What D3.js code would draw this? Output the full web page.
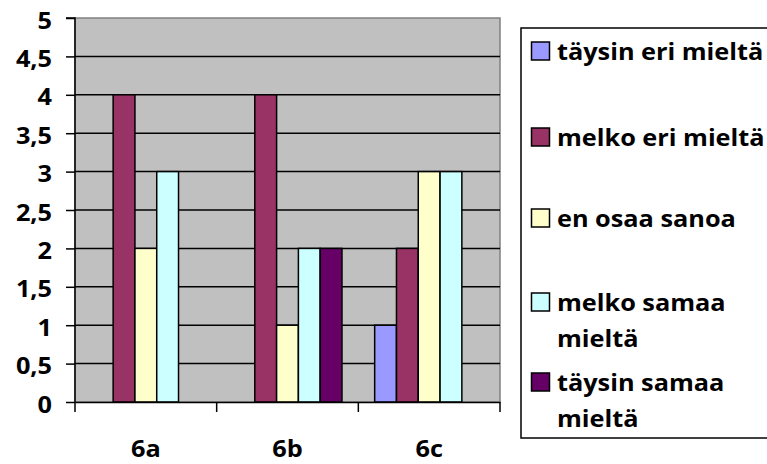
<!DOCTYPE html>
<html>
<head>
<meta charset="utf-8">
<script src="https://cdn.jsdelivr.net/npm/d3@7"></script>
<style>
  html, body { margin: 0; padding: 0; background: #fff; }
  svg { display: block; }
  text { font-family: "Open Sans", sans-serif; font-weight: 700; fill: #000; }
</style>
</head>
<body>
<svg id="chart" width="767" height="464"></svg>
<script>
// Survey answers per statement
const categories = ["6a", "6b", "6c"];
const seriesNames = ["täysin eri mieltä", "melko eri mieltä", "en osaa sanoa", "melko samaa mieltä", "täysin samaa mieltä"];
const legendLines = [["täysin eri mieltä"], ["melko eri mieltä"], ["en osaa sanoa"], ["melko samaa", "mieltä"], ["täysin samaa", "mieltä"]];
const seriesColors = ["#9999FF", "#993366", "#FFFFCC", "#CCFFFF", "#660066"];
const valuesTaysinEri = [0, 0, 1];
const valuesMelkoEri = [4, 4, 2];
const valuesEnOsaa = [2, 1, 3];
const valuesMelkoSamaa = [3, 2, 3];
const valuesTaysinSamaa = [0, 2, 0];
const yTicks = [0, 0.5, 1, 1.5, 2, 2.5, 3, 3.5, 4, 4.5, 5];

const seriesValues = [valuesTaysinEri, valuesMelkoEri, valuesEnOsaa, valuesMelkoSamaa, valuesTaysinSamaa];

const svg = d3.select("#chart");
const plot = { left: 75, right: 500, top: 18, bottom: 402 };
const stretch = 1.1;       // glyphs are drawn slightly wide
const fontSize = 23;

const x0 = d3.scaleBand().domain(categories).range([plot.left, plot.right]).padding(0);
const gapRatio = 1.5;
const barW = x0.bandwidth() / (seriesNames.length + gapRatio);
const x1 = d3.scaleBand().domain(seriesNames)
  .range([barW * gapRatio / 2, x0.bandwidth() - barW * gapRatio / 2]).padding(0);
const y = d3.scaleLinear().domain([0, 5]).range([plot.bottom, plot.top]);

// plot background
svg.append("rect")
  .attr("x", plot.left).attr("y", plot.top)
  .attr("width", plot.right - plot.left).attr("height", plot.bottom - plot.top)
  .attr("fill", "#C0C0C0").attr("stroke", "#808080").attr("stroke-width", 1.5);

// horizontal gridlines
svg.append("g").selectAll("line")
  .data(yTicks.filter(t => t > 0 && t < 5))
  .join("line")
  .attr("x1", plot.left).attr("x2", plot.right)
  .attr("y1", d => y(d)).attr("y2", d => y(d))
  .attr("stroke", "#000").attr("stroke-width", 1.5);

// bars
const rows = categories.map((c, i) => ({ cat: c, vals: seriesNames.map((s, j) => ({ s, j, v: seriesValues[j][i] })) }));
const groups = svg.append("g").selectAll("g")
  .data(rows).join("g")
  .attr("transform", d => `translate(${x0(d.cat)},0)`);
groups.selectAll("rect")
  .data(d => d.vals.filter(e => e.v > 0))
  .join("rect")
  .attr("x", d => x1(d.s)).attr("width", x1.bandwidth())
  .attr("y", d => y(d.v)).attr("height", d => y(0) - y(d.v))
  .attr("fill", d => seriesColors[d.j])
  .attr("stroke", "#000").attr("stroke-width", 1.5);

// y axis
const yAxis = d3.axisLeft(y).tickValues(yTicks).tickSize(9)
  .tickFormat(d => String(d).replace(".", ","));
const gy = svg.append("g").attr("transform", `translate(${plot.left},0)`).call(yAxis);
gy.attr("font-family", null).attr("font-size", null);
gy.select(".domain").attr("stroke", "#000").attr("stroke-width", 1.5).attr("d", `M-9,${plot.top}H0V${plot.bottom}`);
gy.selectAll(".tick line").attr("stroke", "#000").attr("stroke-width", 1.5);
gy.selectAll(".tick text")
  .attr("x", null).attr("dy", null)
  .style("font-size", fontSize + "px")
  .attr("text-anchor", "end").attr("dominant-baseline", "central")
  .attr("transform", `translate(-23,1) scale(${stretch},1)`);

// x axis
const xAxis = d3.axisBottom(x0).tickSize(0).tickSizeOuter(0);
const gx = svg.append("g").attr("transform", `translate(0,${plot.bottom})`).call(xAxis);
gx.attr("font-family", null).attr("font-size", null);
gx.select(".domain").attr("stroke", "#000").attr("stroke-width", 1.5);
gx.selectAll(".tick text")
  .attr("y", null).attr("dy", null)
  .style("font-size", fontSize + "px")
  .attr("text-anchor", "middle")
  .attr("transform", `translate(0,55) scale(${stretch},1)`);
// category boundary ticks
gx.append("g").selectAll("line")
  .data(categories.map(c => x0(c)).concat([plot.right]))
  .join("line")
  .attr("x1", d => d).attr("x2", d => d).attr("y1", 0).attr("y2", 10)
  .attr("stroke", "#000").attr("stroke-width", 1.5);

// legend
const legend = svg.append("g");
legend.append("rect")
  .attr("x", 521).attr("y", 28).attr("width", 260).attr("height", 410)
  .attr("fill", "#fff").attr("stroke", "#000").attr("stroke-width", 1.5);
const legendY = [51, 137, 218, 302, 382];
const items = legend.selectAll("g.item")
  .data(seriesNames.map((s, i) => ({ s, i, lines: legendLines[i] })))
  .join("g").attr("class", "item")
  .attr("transform", d => `translate(0,${legendY[d.i]})`);
items.append("rect")
  .attr("x", 531.5).attr("y", -9).attr("width", 18).attr("height", 18)
  .attr("fill", d => seriesColors[d.i]).attr("stroke", "#000").attr("stroke-width", 1.5);
items.each(function (d) {
  d3.select(this).selectAll("text")
    .data(d.lines).join("text")
    .style("font-size", fontSize + "px")
    .attr("dominant-baseline", "central")
    .attr("transform", (t, k) => `translate(557,${k * 36}) scale(${stretch},1)`)
    .text(t => t);
});
</script>
</body>
</html>
